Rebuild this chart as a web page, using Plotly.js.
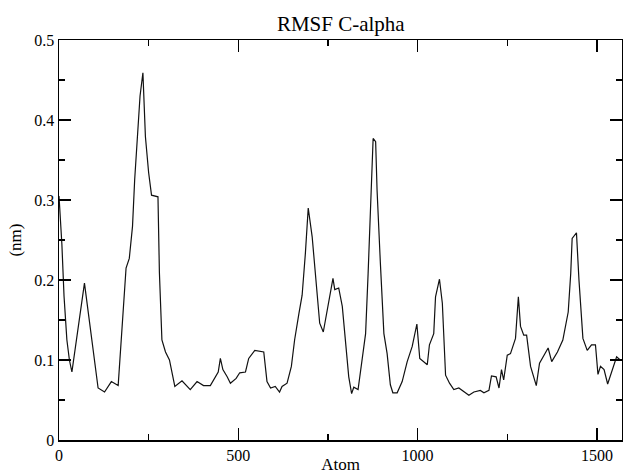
<!DOCTYPE html>
<html>
<head>
<meta charset="utf-8">
<script src="https://cdn.plot.ly/plotly-3.0.1.min.js"></script>
<style>html,body{margin:0;padding:0;background:#fff;}#chart{width:623px;height:474px;}</style>
</head>
<body>
<div id="chart"></div>
<script>
const atom = [0,8,14,22,29,36,71,78,109,127,146,165,176,187,196,205,211,218,226,234,241,250,258,276,280,287,297,308,323,343,366,385,403,422,436,444,450,457,469,478,494,504,520,529,546,571,580,590,603,615,622,636,648,657,669,678,687,695,706,715,727,737,752,764,769,780,790,801,808,816,822,834,845,855,862,869,876,883,887,896,906,915,924,931,943,957,971,985,998,1006,1027,1033,1045,1050,1061,1069,1078,1089,1101,1115,1129,1143,1157,1175,1185,1199,1206,1219,1227,1234,1240,1250,1259,1273,1281,1287,1296,1304,1315,1331,1340,1364,1374,1390,1405,1420,1427,1431,1443,1450,1461,1473,1485,1496,1503,1510,1520,1530,1555,1565];
const rmsf = [0.305,0.245,0.180,0.125,0.100,0.085,0.196,0.172,0.065,0.060,0.073,0.068,0.146,0.215,0.227,0.267,0.325,0.375,0.430,0.459,0.379,0.334,0.306,0.304,0.209,0.125,0.110,0.100,0.067,0.074,0.063,0.073,0.068,0.068,0.079,0.085,0.102,0.088,0.079,0.071,0.077,0.084,0.085,0.102,0.112,0.110,0.073,0.065,0.067,0.060,0.067,0.071,0.092,0.125,0.158,0.181,0.233,0.290,0.254,0.204,0.146,0.135,0.171,0.202,0.188,0.190,0.167,0.117,0.079,0.058,0.066,0.063,0.100,0.133,0.208,0.292,0.377,0.373,0.312,0.223,0.133,0.108,0.069,0.059,0.059,0.073,0.098,0.117,0.145,0.102,0.094,0.119,0.133,0.179,0.201,0.171,0.081,0.071,0.063,0.065,0.060,0.056,0.060,0.062,0.059,0.062,0.080,0.079,0.065,0.088,0.075,0.106,0.108,0.127,0.179,0.142,0.131,0.131,0.092,0.068,0.096,0.115,0.098,0.110,0.125,0.160,0.208,0.252,0.259,0.200,0.127,0.112,0.119,0.119,0.082,0.092,0.088,0.070,0.104,0.100];
const xTicks = [0,500,1000,1500];
const xTickText = ['0','500','1000','1500'];
const yTicks = [0,0.1,0.2,0.3,0.4,0.5];
const yTickText = ['0','0.1','0.2','0.3','0.4','0.5'];

const serif = 'Liberation Serif, Times New Roman, serif';
const trace = {
  x: atom, y: rmsf, type: 'scatter', mode: 'lines',
  line: {color: '#111', width: 1.2}, hoverinfo: 'none'
};
const axisCommon = {
  showgrid: false, zeroline: false, showline: true, linecolor: '#000', linewidth: 1.5,
  mirror: 'ticks', ticks: 'inside', ticklen: 12, tickwidth: 1.2, tickcolor: '#000',
  tickfont: {family: serif, size: 16, color: '#000'}
};
const layout = {
  width: 623, height: 474,
  margin: {l: 59, r: 1, t: 40, b: 34},
  paper_bgcolor: '#fff', plot_bgcolor: '#fff',
  showlegend: false,
  title: {text: 'RMSF C-alpha', font: {family: serif, size: 21, color: '#000'}, x: 0.547, xanchor: 'center', y: 0.95, yanchor: 'middle'},
  xaxis: Object.assign({}, axisCommon, {
    range: [0, 1570], tickmode: 'array', tickvals: xTicks, ticktext: xTickText,
    minor: {dtick: 250, tick0: 0, ticks: 'inside', ticklen: 6, tickwidth: 1.2, tickcolor: '#000', showgrid: false},
    title: {text: 'Atom', font: {family: serif, size: 17, color: '#000'}, standoff: 2}
  }),
  yaxis: Object.assign({}, axisCommon, {
    range: [0, 0.5], tickmode: 'array', tickvals: yTicks, ticktext: yTickText,
    minor: {dtick: 0.05, tick0: 0, ticks: 'inside', ticklen: 6, tickwidth: 1.2, tickcolor: '#000', showgrid: false},
    title: {text: '(nm)', font: {family: serif, size: 17, color: '#000'}, standoff: 8}
  })
};
Plotly.newPlot('chart', [trace], layout, {staticPlot: true, displayModeBar: false});
</script>
</body>
</html>
